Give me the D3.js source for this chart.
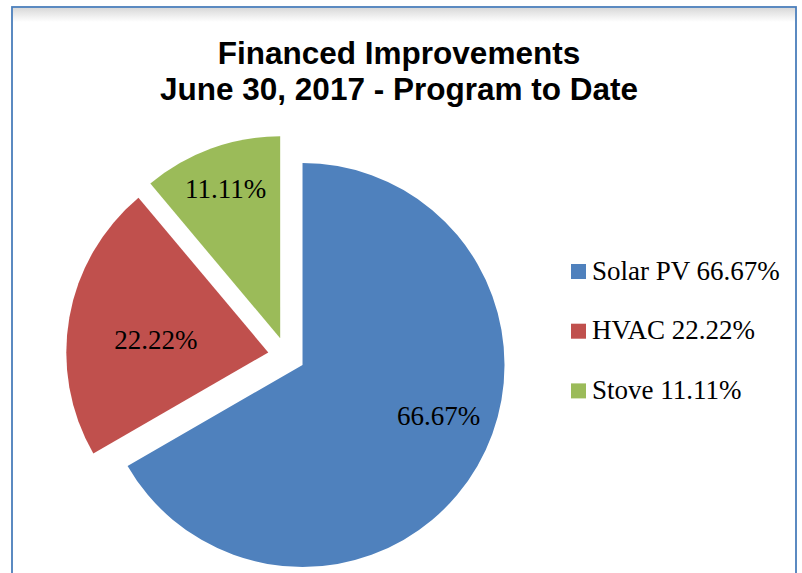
<!DOCTYPE html>
<html>
<head>
<meta charset="utf-8">
<script src="https://cdn.jsdelivr.net/npm/d3@7"></script>
<style>
  body { margin: 0; background: #fff; }
  svg { display: block; }
</style>
</head>
<body>
<script>
const categories = ["Solar PV", "HVAC", "Stove"];
const values = [66.67, 22.22, 11.11];
const valueLabels = ["66.67%", "22.22%", "11.11%"];
const colors = ["#4F81BD", "#C0504D", "#9BBB59"];
const titleLines = ["Financed Improvements", "June 30, 2017 - Program to Date"];

// label placement tweaks (fraction of radius, degrees off the bisector)
const labelRadius = [0.72, 0.56, 0.79];
const labelShift = [-9.4, -3.4, 0];

const width = 802;
const height = 573;
const cx = 286.5;
const cy = 355.7;
const radius = 202;
const explode = 18.5;

const svg = d3
  .select("body")
  .append("svg")
  .attr("width", width)
  .attr("height", height);

const defs = svg.append("defs");
const grad = defs
  .append("linearGradient")
  .attr("id", "topShade")
  .attr("x1", 0)
  .attr("y1", 0)
  .attr("x2", 0)
  .attr("y2", 1);
grad.append("stop").attr("offset", "0%").attr("stop-color", "#d9d9d9");
grad.append("stop").attr("offset", "100%").attr("stop-color", "#fff");

// chart frame
svg
  .append("rect")
  .attr("x", 13)
  .attr("y", 8)
  .attr("width", 782)
  .attr("height", 14)
  .attr("fill", "url(#topShade)");

svg
  .append("rect")
  .attr("x", 12)
  .attr("y", 7)
  .attr("width", 784)
  .attr("height", 620)
  .attr("fill", "none")
  .attr("stroke", "#4A7EBB")
  .attr("stroke-width", 1.8);

// title
svg
  .append("g")
  .selectAll("text")
  .data(titleLines)
  .join("text")
  .attr("x", 399)
  .attr("y", (d, i) => 64 + i * 36)
  .attr("text-anchor", "middle")
  .attr("font-family", "Liberation Sans, Arial, sans-serif")
  .attr("font-weight", "bold")
  .attr("font-size", 31.5)
  .attr("fill", "#000")
  .text((d) => d);

const pie = d3.pie().sort(null).value((d) => d);
const arcs = pie(values);

const arc = d3.arc().innerRadius(0).outerRadius(radius);

const offset = (d) => {
  const a = (d.startAngle + d.endAngle) / 2;
  return [Math.sin(a) * explode, -Math.cos(a) * explode];
};

const pieGroup = svg
  .append("g")
  .attr("transform", `translate(${cx},${cy})`);

const slices = pieGroup
  .selectAll("g")
  .data(arcs)
  .join("g")
  .attr("transform", (d) => `translate(${offset(d)})`);

slices
  .append("path")
  .attr("d", arc)
  .attr("fill", (d, i) => colors[i]);

slices
  .append("text")
  .attr("transform", (d, i) => {
    const a = (d.startAngle + d.endAngle) / 2 + (labelShift[i] * Math.PI) / 180;
    const r = radius * labelRadius[i];
    return `translate(${Math.sin(a) * r},${-Math.cos(a) * r})`;
  })
  .attr("dy", "0.34em")
  .attr("text-anchor", "middle")
  .attr("font-family", "Liberation Serif, Cambria, serif")
  .attr("font-size", 27)
  .attr("fill", "#000")
  .text((d, i) => valueLabels[i]);

// legend
const legend = svg
  .append("g")
  .attr("transform", "translate(571,264)");

const rows = legend
  .selectAll("g")
  .data(categories)
  .join("g")
  .attr("transform", (d, i) => `translate(0,${i * 59.7})`);

rows
  .append("rect")
  .attr("width", 15)
  .attr("height", 15)
  .attr("fill", (d, i) => colors[i]);

rows
  .append("text")
  .attr("x", 21)
  .attr("y", 15.5)
  .attr("font-family", "Liberation Serif, Cambria, serif")
  .attr("font-size", 27)
  .attr("fill", "#000")
  .text((d, i) => `${d} ${valueLabels[i]}`);
</script>
</body>
</html>
